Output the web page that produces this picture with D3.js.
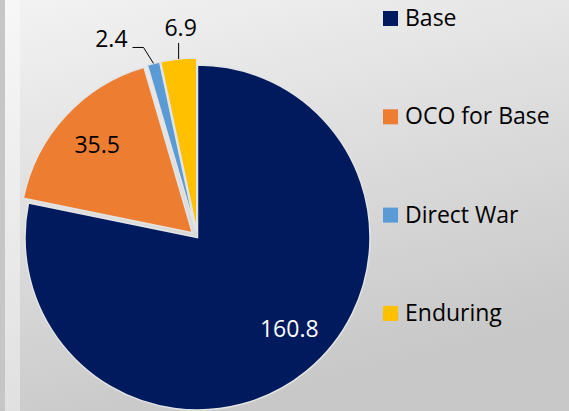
<!DOCTYPE html>
<html>
<head>
<meta charset="utf-8">
<script src="https://cdn.jsdelivr.net/npm/d3@7"></script>
<style>
  body { margin: 0; }
  svg { display: block; font-family: "Open Sans", sans-serif; }
</style>
</head>
<body>
<svg width="569" height="411"></svg>
<script>
var categories = ["Base", "OCO for Base", "Direct War", "Enduring"];
var values = [160.8, 35.5, 2.4, 6.9];
var labels = ["160.8", "35.5", "2.4", "6.9"];
var colors = ["#001a5e", "#ed7d31", "#5b9bd5", "#ffc000"];

var svg = d3.select("svg"),
    width = +svg.attr("width"),
    height = +svg.attr("height");

// background
var defs = svg.append("defs");
var grad = defs.append("linearGradient").attr("id", "bg")
    .attr("x1", "0").attr("y1", "0").attr("x2", "0.35").attr("y2", "1");
grad.append("stop").attr("offset", "0%").attr("stop-color", "#f3f3f3");
grad.append("stop").attr("offset", "100%").attr("stop-color", "#c8c8c8");
svg.append("rect").attr("width", width).attr("height", height).attr("fill", "url(#bg)");
svg.append("rect").attr("width", 5).attr("height", height).attr("fill", "#c6c6c6");
svg.append("rect").attr("x", 5).attr("width", 15).attr("height", height)
    .attr("fill", "#ffffff").attr("opacity", 0.4);

var cx = 197.5, cy = 237.5, r = 172.5;
var explode = [0, 7, 7, 7];

var pie = d3.pie().sort(null).value(d => d);
var arcs = pie(values);
var arc = d3.arc().innerRadius(0).outerRadius(r);

function shift(d, i) {
  var a = (d.startAngle + d.endAngle) / 2;
  return [Math.sin(a) * explode[i], -Math.cos(a) * explode[i]];
}

var g = svg.append("g").attr("transform", "translate(" + cx + "," + cy + ")");

g.selectAll("path.slice")
  .data(arcs)
  .enter().append("path")
    .attr("class", "slice")
    .attr("transform", (d, i) => "translate(" + shift(d, i) + ")")
    .attr("d", arc)
    .attr("fill", (d, i) => colors[i])
    .attr("stroke", "#e4e4e4")
    .attr("stroke-width", 1.5);

// inside labels
var inArc = d3.arc().innerRadius(r * 0.75).outerRadius(r * 0.75);
var inNudge = [[10, -9], [0, 0]];
[0, 1].forEach(function(i) {
  var d = arcs[i], s = shift(d, i), c = inArc.centroid(d);
  g.append("text")
    .attr("x", c[0] + s[0] + inNudge[i][0])
    .attr("y", c[1] + s[1] + inNudge[i][1])
    .attr("dy", "0.35em")
    .attr("text-anchor", "middle")
    .attr("font-size", 23)
    .attr("fill", i == 0 ? "#ffffff" : "#000000")
    .text(labels[i]);
});

// outside labels with leader lines
var edgeArc = d3.arc().innerRadius(r).outerRadius(r);
var leaders = { 2: [[-10, -16], [-21, -16]], 3: [[0, -16]] };
var textOff = { 2: [-26, 0, "end"], 3: [2, -7, "middle"] };
[2, 3].forEach(function(i) {
  var d = arcs[i], s = shift(d, i), c = edgeArc.centroid(d);
  var p0 = [c[0] + s[0], c[1] + s[1]];
  var pts = [p0].concat(leaders[i].map(o => [p0[0] + o[0], p0[1] + o[1]]));
  g.append("path")
    .attr("d", d3.line()(pts))
    .attr("fill", "none")
    .attr("stroke", "#000")
    .attr("stroke-width", 1);
  var last = pts[pts.length - 1];
  g.append("text")
    .attr("x", p0[0] + textOff[i][0])
    .attr("y", last[1] + textOff[i][1])
    .attr("text-anchor", textOff[i][2])
    .attr("font-size", 23)
    .attr("fill", "#000")
    .text(labels[i]);
});

// legend
var legend = svg.append("g").attr("transform", "translate(383,11)");
var item = legend.selectAll("g")
  .data(categories)
  .enter().append("g")
    .attr("transform", (d, i) => "translate(0," + i * 98.3 + ")");
item.append("rect")
    .attr("width", 15).attr("height", 15)
    .attr("fill", (d, i) => colors[i]);
item.append("text")
    .attr("x", 22).attr("y", 15)
    .attr("font-size", 23)
    .attr("fill", "#000")
    .text(d => d);
</script>
</body>
</html>
